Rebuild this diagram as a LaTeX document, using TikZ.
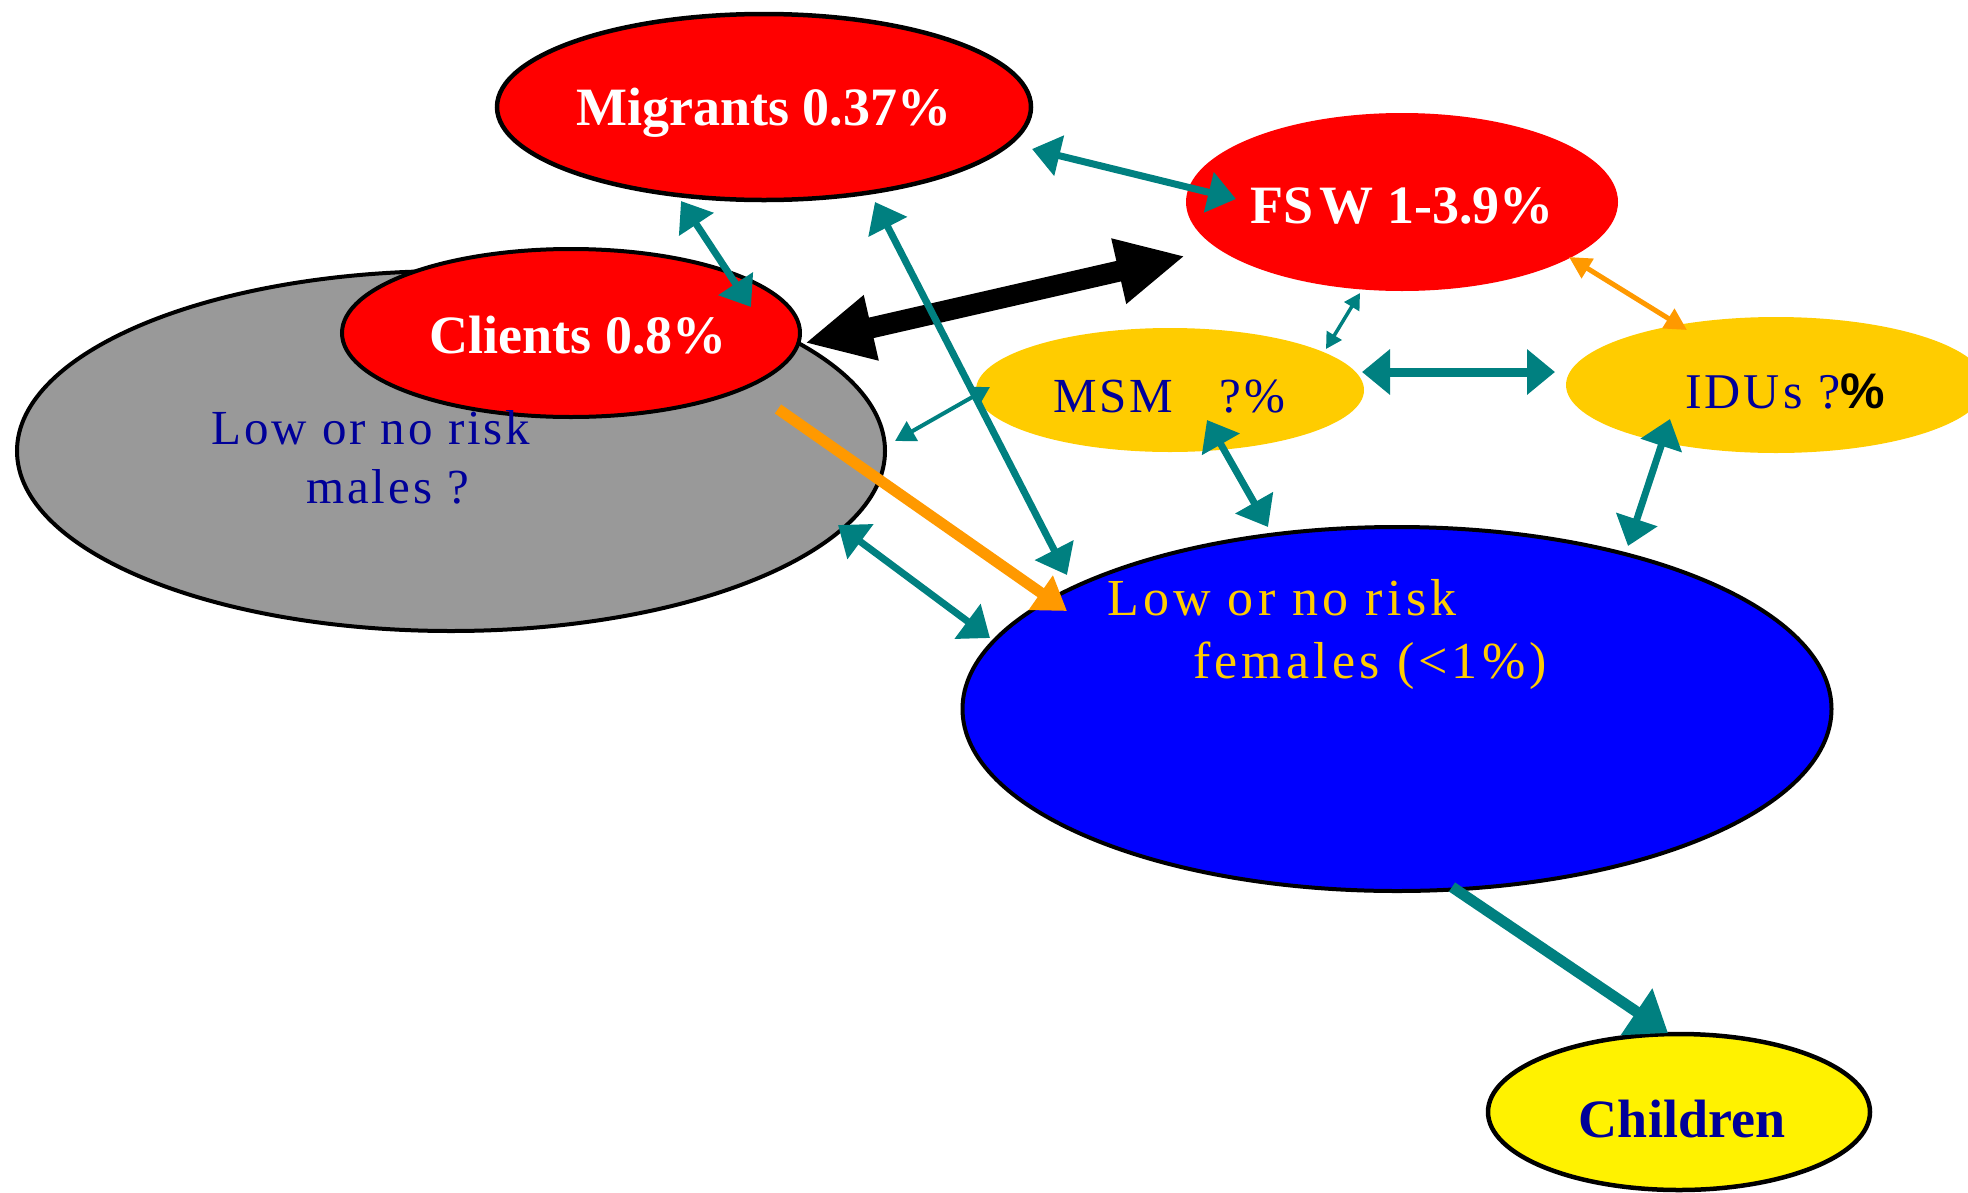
\documentclass[tikz,border=0pt]{standalone}
\usepackage{fontspec}
\setmainfont{Liberation Serif}
\newfontfamily\lspA{Liberation Serif}[LetterSpace=6]
\newfontfamily\lspB{Liberation Serif}[LetterSpace=8]
\newfontfamily\sansf{Liberation Sans}
\usetikzlibrary{arrows.meta,shapes.geometric}
\definecolor{tealc}{RGB}{0,128,128}
\definecolor{navyc}{RGB}{0,0,153}
\definecolor{goldc}{RGB}{255,204,0}
\definecolor{orangec}{RGB}{255,153,0}
\definecolor{greyc}{RGB}{153,153,153}
\tikzset{
  blob/.style={ellipse, inner sep=0pt, outer sep=0pt},
  boldlabel/.style={font=\fontsize{54}{62}\selectfont\bfseries, inner sep=0pt, anchor=base},
  plainA/.style={font=\fontsize{49}{58}\selectfont\lspA, inner sep=0pt, anchor=base west},
  plainB/.style={font=\fontsize{52}{60}\selectfont\lspB, inner sep=0pt, anchor=base west},
  dbl/.style n args={3}{line width=#1pt, arrows={Triangle[length=#2pt,width=#3pt]-Triangle[length=#2pt,width=#3pt]}},
  sgl/.style n args={3}{line width=#1pt, arrows={-Triangle[length=#2pt,width=#3pt]}}
}
\begin{document}
\begin{tikzpicture}[x=1pt,y=-1pt]
\useasboundingbox (0,0) rectangle (1968,1192);
% ellipses
\node[blob, draw=black, line width=4pt, fill=greyc, minimum width=868pt, minimum height=360pt] (grey) at (451,451) {};
\node[blob, draw=black, line width=4pt, fill=red, minimum width=458pt, minimum height=168pt] (cli) at (571,333) {};
\node[blob, draw=black, line width=4.5pt, fill=red, minimum width=534pt, minimum height=186pt] (mig) at (764,107) {};
\node[blob, fill=red, minimum width=432pt, minimum height=178pt] (fsw) at (1402,202) {};
\node[blob, fill=goldc, minimum width=388pt, minimum height=124pt] (msm) at (1170,390) {};
\node[blob, fill=goldc, minimum width=420pt, minimum height=136pt] (idu) at (1776,385) {};
\node[blob, draw=black, line width=4pt, fill=blue, minimum width=869pt, minimum height=364pt] (fem) at (1397,709) {};
\node[blob, draw=black, line width=4.5pt, fill=yellow, minimum width=382pt, minimum height=156pt] (chi) at (1679,1112) {};
% labels
\node[boldlabel, text=white] (tmig) at (764,125) {Migrants 0.37\%};
\node[boldlabel, text=white] (tfsw) at (1402,223) {FS\kern6pt W 1-3.9\%};
\node[boldlabel, text=white] (tcli) at (578,353) {Clients 0.8\%};
\node[boldlabel, text=navyc] (tchi) at (1682,1137) {Children};
\node[plainA, text=navyc] (tm1) at (211,444) {Low or no risk};
\node[plainA, text=navyc] (tm2) at (306,503) {males ?};
\node[plainB, text=goldc] (tf1) at (1107,615) {Low or no risk};
\node[plainB, text=goldc] (tf2) at (1193,678) {females (<1\%)};
\node[plainA, font=\fontsize{49}{56}\selectfont\lspA, text=navyc] (tmsm) at (1053,412) {MSM\hspace{46pt}?\%};
\node[plainA, font=\fontsize{50}{56}\selectfont\lspA, text=navyc] (tidu) at (1685,408) {IDUs ?{\sansf\bfseries\color{black}\%}};
% connector end points
\coordinate (c1a) at (1032,149); \coordinate (c1b) at (1236,199);
\coordinate (c2a) at (681,201);  \coordinate (c2b) at (751,307);
\coordinate (c3a) at (875,202);  \coordinate (c3b) at (1067,575);
\coordinate (c4a) at (805,343);  \coordinate (c4b) at (1185,256);
\coordinate (c5a) at (1360,293); \coordinate (c5b) at (1326,349);
\coordinate (c6a) at (1569,257); \coordinate (c6b) at (1687,330);
\coordinate (c7a) at (1362,372); \coordinate (c7b) at (1555,372);
\coordinate (c8a) at (990,387);  \coordinate (c8b) at (895,441);
\coordinate (c9a) at (1207,420); \coordinate (c9b) at (1268,527);
\coordinate (c10a) at (1670,419); \coordinate (c10b) at (1628,546);
\coordinate (c11a) at (838,525); \coordinate (c11b) at (990,638);
\coordinate (c12a) at (778,409); \coordinate (c12b) at (1067,611);
\coordinate (c13a) at (1452,887); \coordinate (c13b) at (1668,1033);
% connectors
\draw[black, dbl={21}{68}{62}] (c4a) -- (c4b);
\draw[orangec, sgl={11}{32}{40}] (c12a) -- (c12b);
\draw[tealc, dbl={4}{20}{22}] (c8a) -- (c8b);
\draw[tealc, dbl={7}{28}{40}] (c1a) -- (c1b);
\draw[tealc, dbl={7}{28}{40}] (c2a) -- (c2b);
\draw[tealc, dbl={7}{28}{42}] (c3a) -- (c3b);
\draw[tealc, dbl={3.5}{16}{17}] (c5a) -- (c5b);
\draw[orangec, dbl={5}{22}{22}] (c6a) -- (c6b);
\draw[tealc, dbl={9}{28}{44}] (c7a) -- (c7b);
\draw[tealc, dbl={7}{28}{42}] (c9a) -- (c9b);
\draw[tealc, dbl={7}{28}{42}] (c10a) -- (c10b);
\draw[tealc, dbl={7}{28}{42}] (c11a) -- (c11b);
\draw[tealc, sgl={11}{38}{54}] (c13a) -- (c13b);
\end{tikzpicture}
\end{document}
